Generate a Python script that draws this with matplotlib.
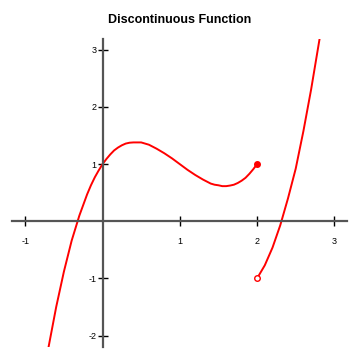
import matplotlib
matplotlib.use("Agg")
import matplotlib.pyplot as plt

plt.rcParams['font.family'] = ['Liberation Sans', 'DejaVu Sans']
plt.rcParams['axes.unicode_minus'] = False

# left piece, x <= 2 (closed end at x=2)
left_x = [-0.72, -0.7, -0.6, -0.5, -0.4, -0.3, -0.2, -0.15, -0.1, -0.05, 0.0, 0.05, 0.1,
          0.15, 0.2, 0.25, 0.3, 0.35, 0.4, 0.5, 0.6, 0.7, 0.8, 0.9, 1.0, 1.1, 1.2, 1.3,
          1.4, 1.45, 1.5, 1.55, 1.6, 1.65, 1.7, 1.75, 1.8, 1.85, 1.9, 1.95, 2.0]
left_y = [-2.36, -2.21, -1.50, -0.88, -0.34, 0.10, 0.47, 0.63, 0.77, 0.89, 1.00, 1.09, 1.17,
          1.24, 1.29, 1.33, 1.36, 1.375, 1.38, 1.38, 1.34, 1.27, 1.19, 1.10, 1.00, 0.90, 0.81, 0.73,
          0.66, 0.64, 0.63, 0.615, 0.615, 0.625, 0.64, 0.67, 0.71, 0.76, 0.83, 0.91, 1.00]

# right piece, x > 2 (open end at x=2)
right_x = [2.0, 2.1, 2.2, 2.3, 2.4, 2.5, 2.6, 2.7, 2.8, 2.82]
right_y = [-1.00, -0.77, -0.46, -0.07, 0.40, 0.92, 1.58, 2.31, 3.12, 3.28]

x_ticks = [-1, 1, 2, 3]
y_ticks = [-2, -1, 1, 2, 3]

fig = plt.figure(figsize=(3.6, 3.6), dpi=100)
ax = fig.add_axes([0.0333, 0.0361, 0.9306, 0.8556])
ax.set_xlim(-1.172, 3.164)
ax.set_ylim(-2.20, 3.19)

red = '#ff0000'
ax.plot(left_x, left_y, color=red, lw=1.4, solid_capstyle='round', solid_joinstyle='round')
ax.plot(right_x, right_y, color=red, lw=1.4, solid_capstyle='round', solid_joinstyle='round')
ax.plot([left_x[-1]], [left_y[-1]], 'o', color=red, ms=4, zorder=5)
ax.plot([right_x[0]], [right_y[0]], 'o', mfc='white', mec=red, mew=1, ms=4, zorder=5)

for s in ['top', 'right']:
    ax.spines[s].set_visible(False)
for s in ['left', 'bottom']:
    ax.spines[s].set_position(('data', 0))
    ax.spines[s].set_color('#555555')
    ax.spines[s].set_linewidth(1.6)

ax.set_xticks(x_ticks)
ax.set_yticks(y_ticks)
ax.set_xticklabels([str(v) for v in x_ticks])
ax.set_yticklabels([str(v) for v in y_ticks])
ax.tick_params(axis='x', direction='inout', length=7, width=1, color='black',
               labelsize=6.5, pad=8)
ax.tick_params(axis='y', direction='inout', length=7, width=1, color='black',
               labelsize=6.5, pad=1)

fig.text(0.5, 0.945, 'Discontinuous Function', ha='center', va='center',
         fontsize=9, fontweight='bold')

fig.savefig('out.png', dpi=100)
